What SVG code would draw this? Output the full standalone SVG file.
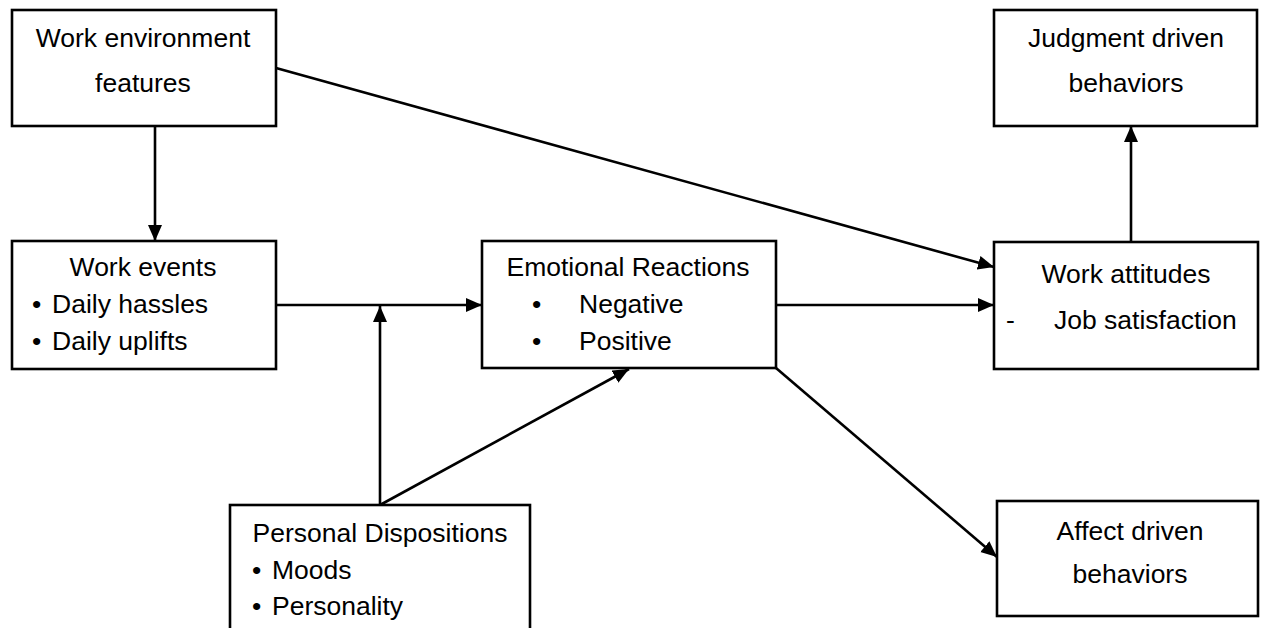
<svg xmlns="http://www.w3.org/2000/svg" width="1261" height="628" viewBox="0 0 1261 628">
<style>
.box{fill:#fff;stroke:#000;stroke-width:2.6}
.t{font-family:"Liberation Sans",Arial,sans-serif;font-size:26.5px;fill:#000}
.c{text-anchor:middle}
.ln{stroke:#000;stroke-width:2.6;fill:none;marker-end:url(#ah)}
</style>
<defs>
<marker id="ah" markerUnits="userSpaceOnUse" markerWidth="17" markerHeight="15" refX="16" refY="7" orient="auto">
<path d="M0,0 L16,7 L0,14 z" fill="#000"/>
</marker>
</defs>
<rect width="1261" height="628" fill="#fff"/>
<g id="connectors">
<line class="ln" x1="155" y1="126" x2="155" y2="241"/>
<line class="ln" x1="276" y1="68" x2="994" y2="267"/>
<line class="ln" x1="276" y1="305" x2="482" y2="305"/>
<line class="ln" x1="380" y1="505" x2="380" y2="306"/>
<line class="ln" x1="380" y1="505" x2="629" y2="369"/>
<line class="ln" x1="776" y1="305" x2="994" y2="305"/>
<line class="ln" x1="1131" y1="242" x2="1131" y2="126"/>
<line class="ln" x1="776" y1="368" x2="997" y2="557"/>
</g>
<g id="work-environment">
<rect class="box" x="12" y="10" width="264" height="116"/>
<text class="t c" x="143" y="47">Work environment</text>
<text class="t c" x="143" y="92">features</text>
</g>
<g id="judgment-behaviors">
<rect class="box" x="994" y="10" width="263" height="116"/>
<text class="t c" x="1126" y="47">Judgment driven</text>
<text class="t c" x="1126" y="92">behaviors</text>
</g>
<g id="work-events">
<rect class="box" x="12" y="241" width="264" height="128"/>
<text class="t c" x="143" y="276">Work events</text>
<text class="t" x="32" y="313">•</text>
<text class="t" x="52" y="313">Daily hassles</text>
<text class="t" x="32" y="350">•</text>
<text class="t" x="52" y="350">Daily uplifts</text>
</g>
<g id="emotional-reactions">
<rect class="box" x="482" y="241" width="294" height="127"/>
<text class="t c" x="628" y="276">Emotional Reactions</text>
<text class="t" x="532" y="313">•</text>
<text class="t" x="579" y="313">Negative</text>
<text class="t" x="532" y="350">•</text>
<text class="t" x="579" y="350">Positive</text>
</g>
<g id="work-attitudes">
<rect class="box" x="994" y="242" width="264" height="127"/>
<text class="t c" x="1126" y="283">Work attitudes</text>
<text class="t" x="1006" y="329">-</text>
<text class="t" x="1054" y="329">Job satisfaction</text>
</g>
<g id="personal-dispositions">
<rect class="box" x="230" y="505" width="300" height="140"/>
<text class="t c" x="380" y="542">Personal Dispositions</text>
<text class="t" x="252" y="579">•</text>
<text class="t" x="272" y="579">Moods</text>
<text class="t" x="252" y="615">•</text>
<text class="t" x="272" y="615">Personality</text>
</g>
<g id="affect-behaviors">
<rect class="box" x="997" y="501" width="261" height="115"/>
<text class="t c" x="1130" y="540">Affect driven</text>
<text class="t c" x="1130" y="583">behaviors</text>
</g>
</svg>
